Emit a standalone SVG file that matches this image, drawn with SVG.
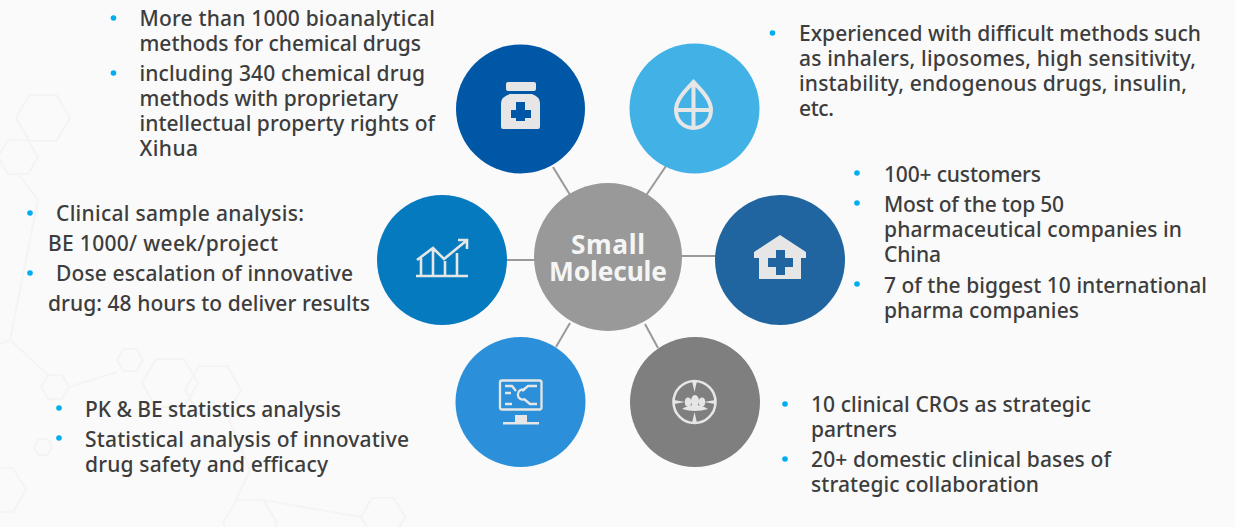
<svg xmlns="http://www.w3.org/2000/svg" width="1235" height="527" viewBox="0 0 1235 527">
<style>
.t{font-family:"Noto Sans","Open Sans","Liberation Sans",sans-serif;font-size:21px;font-weight:500;fill:#3d3d3d}
.c{font-family:"Noto Sans","Open Sans","Liberation Sans",sans-serif;font-size:26.300px;font-weight:700;fill:#f5f5f5;text-anchor:middle}
.b{fill:#00aeef}
.hex{fill:none;stroke:#f4f4f4;stroke-width:2}
.ln{stroke:#999;stroke-width:2;fill:none}
.ic{fill:#e6e6e6}
.is{fill:none;stroke:#e6e6e6;stroke-width:2.300}
</style>
<rect width="1235" height="527" fill="#fafafa"/>
<g id="bg">
<polygon class="hex" points="70,118 56.500,141 29.500,141 16,118 29.500,95 56.500,95"/>
<polygon class="hex" points="38,157 28,174 8,174 -2,157 8,140 28,140"/>
<polygon class="hex" points="198,383 184,407 156,407 142,383 156,359 184,359"/>
<polygon class="hex" points="241,390 227,414 199,414 185,390 199,366 227,366"/>
<polygon class="hex" points="69,387 62,399 48,399 41,387 48,375 62,375"/>
<polygon class="hex" points="143,360 136.500,371 123.500,371 117,360 123.500,349 136.500,349"/>
<polygon class="hex" points="52,447 47.500,455 38.500,455 34,447 38.500,439 47.500,439"/>
<polygon class="hex" points="277,523 263.500,546 236.500,546 223,523 236.500,500 263.500,500"/>
<polygon class="hex" points="405,517 394,536 372,536 361,517 372,498 394,498"/>
<polygon class="hex" points="26,490 13,512 -13,512 -26,490 -13,468 13,468"/>
<path class="hex" d="M18 174L38 200L10 340L-2 345M10 340L48 375M69 387L117 372M227 414L250 470L236 500M263 500L361 517"/>
</g>
<g id="connectors">
<line class="ln" x1="553" y1="167" x2="575" y2="203"/>
<line class="ln" x1="666" y1="166" x2="645" y2="197"/>
<line class="ln" x1="506" y1="260" x2="535" y2="260"/>
<line class="ln" x1="681" y1="256" x2="716" y2="256"/>
<line class="ln" x1="556" y1="347" x2="570" y2="323"/>
<line class="ln" x1="658" y1="348" x2="645" y2="324"/>
</g>
<g id="center"><circle cx="608" cy="257" r="74" fill="#999"/>
<text class="c" x="608" y="254" textLength="74">Small</text><text class="c" x="608" y="281" textLength="118">Molecule</text></g>
<g id="node-bottle"><circle cx="520.500" cy="109" r="64.500" fill="#0057a6"/>
<rect class="ic" x="506" y="82" width="30" height="9" rx="2"/>
<path class="ic" fill-rule="evenodd" d="M510 94H532Q540 97 540 103V127Q540 129 538 129H503Q501 129 501 127V103Q501 97 510 94ZM516 102V110H511V118H516V121H525V118H531V110H525V102Z"/>
</g>
<g id="node-drop"><circle cx="694.500" cy="108.500" r="65" fill="#42b2e6"/>
<path class="is" style="stroke-width:4" d="M693.500 82C684 92 676 100 676 110C676 121 684 128 693.500 128C703 128 711 121 711 110C711 100 703 92 693.500 82ZM693.500 82V128M676 110H711"/>
</g>
<g id="node-chart"><circle cx="442" cy="260" r="65" fill="#067abf"/>
<path class="is" style="stroke-width:2.600" d="M417 260L433 248L444 259L466 241M458 240H467V249M421 276V258M433 276V249M445 276V261M457 276V253"/>
<path class="is" style="stroke-width:2.600" d="M416 276H468"/>
</g>
<g id="node-house"><circle cx="780" cy="260" r="65" fill="#20659f"/>
<path class="ic" fill-rule="evenodd" d="M780 235L806 252V258H801V279H759V258H754V252ZM776 250V258H768V267H776V275H785V267H793V258H785V250Z"/>
</g>
<g id="node-monitor"><circle cx="520.500" cy="402" r="65" fill="#2b90d9"/>
<rect class="is" x="500" y="380.500" width="41.500" height="29" rx="2"/>
<path class="is" d="M505 386H512L516 391M505 393H511M505 404H512M537 386H528L522 391M524 399L530 404H537"/>
<path class="is" d="M525 390A5 5 0 1 0 525 399"/>
<rect class="ic" x="515" y="415" width="12" height="7"/>
<rect class="ic" x="503" y="422" width="36" height="2.500"/>
</g>
<g id="node-target"><circle cx="695" cy="402" r="65" fill="#7f7f7f"/>
<circle class="is" style="stroke-width:2.600" cx="694.500" cy="402" r="21"/>
<path class="ic" d="M692 381H697L694.500 392ZM692 423H697L694.500 412ZM674 400V404L685 402ZM715 400V404L704 402Z"/>
<ellipse class="ic" cx="695" cy="401" rx="4" ry="6"/>
<ellipse class="ic" cx="688" cy="402" rx="3.200" ry="4.500"/>
<ellipse class="ic" cx="702" cy="402" rx="3.200" ry="4.500"/>
<path class="ic" d="M682 409Q695 401 708 409Q695 413 682 409Z"/>
</g>
<g id="text-tl">
<circle class="b" cx="113.500" cy="18" r="2.800"/><text class="t" x="139.500" y="26" textLength="295.500">More than 1000 bioanalytical</text>
<text class="t" x="139.500" y="51" textLength="281.500">methods for chemical drugs</text>
<circle class="b" cx="113.500" cy="73" r="2.800"/><text class="t" x="139.500" y="81" textLength="285.500">including 340 chemical drug</text>
<text class="t" x="139.500" y="106" textLength="258.500">methods with proprietary</text>
<text class="t" x="139.500" y="131" textLength="295.500">intellectual property rights of</text>
<text class="t" x="139.500" y="156" textLength="58.500">Xihua</text>
</g>
<g id="text-tr">
<circle class="b" cx="772.500" cy="33" r="2.800"/><text class="t" x="799" y="41" textLength="402">Experienced with difficult methods such</text>
<text class="t" x="799" y="66" textLength="397">as inhalers, liposomes, high sensitivity,</text>
<text class="t" x="799" y="91" textLength="388">instability, endogenous drugs, insulin,</text>
<text class="t" x="799" y="116" textLength="35">etc.</text>
</g>
<g id="text-r">
<circle class="b" cx="857" cy="173" r="2.800"/><text class="t" x="884" y="182" textLength="157">100+ customers</text>
<circle class="b" cx="857" cy="203" r="2.800"/><text class="t" x="884" y="212" textLength="180">Most of the top 50</text>
<text class="t" x="884" y="237" textLength="298">pharmaceutical companies in</text>
<text class="t" x="884" y="262" textLength="57">China</text>
<circle class="b" cx="857" cy="284" r="2.800"/><text class="t" x="884" y="293" textLength="323">7 of the biggest 10 international</text>
<text class="t" x="884" y="318" textLength="195">pharma companies</text>
</g>
<g id="text-l">
<circle class="b" cx="30" cy="213" r="2.800"/><text class="t" x="56" y="221" textLength="248">Clinical sample analysis:</text>
<text class="t" x="48" y="251" textLength="230">BE 1000/ week/project</text>
<circle class="b" cx="30" cy="273" r="2.800"/><text class="t" x="56" y="281" textLength="297">Dose escalation of innovative</text>
<text class="t" x="48" y="311" textLength="322">drug: 48 hours to deliver results</text>
</g>
<g id="text-bl">
<circle class="b" cx="59" cy="408" r="2.800"/><text class="t" x="85" y="417" textLength="256">PK &amp; BE statistics analysis</text>
<circle class="b" cx="59" cy="438" r="2.800"/><text class="t" x="85" y="447" textLength="324">Statistical analysis of innovative</text>
<text class="t" x="85" y="472" textLength="243">drug safety and efficacy</text>
</g>
<g id="text-br">
<circle class="b" cx="785" cy="404" r="2.800"/><text class="t" x="811" y="412" textLength="280">10 clinical CROs as strategic</text>
<text class="t" x="811" y="437" textLength="86">partners</text>
<circle class="b" cx="785" cy="459" r="2.800"/><text class="t" x="811" y="467" textLength="300">20+ domestic clinical bases of</text>
<text class="t" x="811" y="492" textLength="228">strategic collaboration</text>
</g>
</svg>
